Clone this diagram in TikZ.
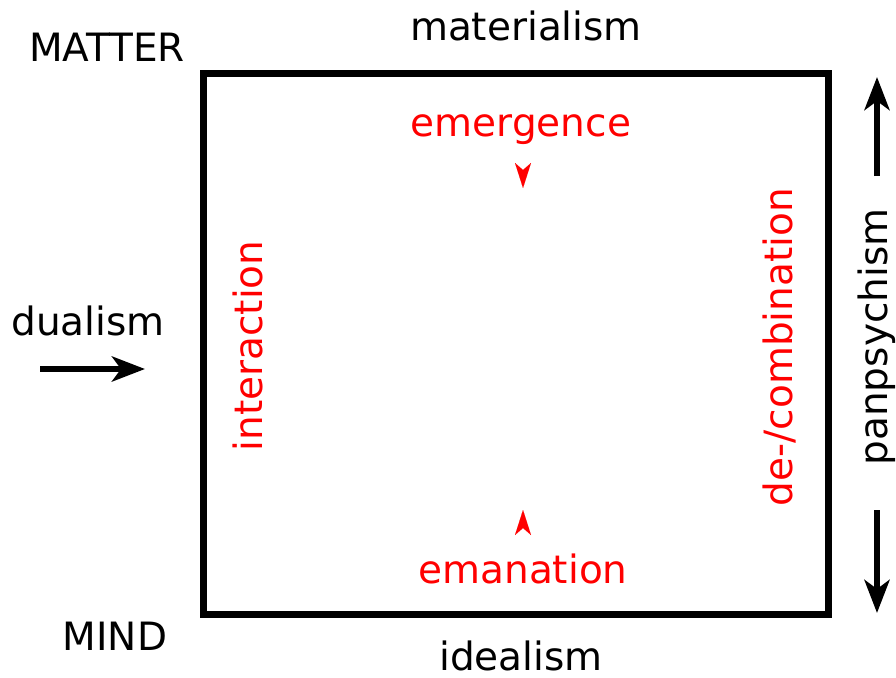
\documentclass[tikz,border=0pt]{standalone}
\usepackage{fontspec}
\setmainfont{DejaVu Sans}
\usetikzlibrary{arrows.meta}
\definecolor{tred}{RGB}{255,0,0}
\tikzset{
  lbl/.style={anchor=base, inner sep=0pt, font=\fontsize{39}{47}\selectfont},
  rlbl/.style={lbl, text=tred},
  bigarrow/.style={line width=6.5pt, -{Stealth[length=33pt,width=25pt,inset=9pt]}},
  redtip/.style={draw=tred, fill=tred, line width=0.01pt, -{Stealth[length=25pt,width=16pt,inset=7pt]}},
  frame/.style={line width=7pt, draw=black},
}
\begin{document}
\begin{tikzpicture}[x=1pt,y=-1pt]
\useasboundingbox (0,0) rectangle (896,677);
% frame
\node[frame, minimum width=625pt, minimum height=541pt, inner sep=0pt, line join=miter] (box) at (515.5,343.5) {};
% corner / side labels
\node[lbl] (matter) at (107,62) {MATTER};
\node[lbl] (mind) at (115,650) {MIND};
\node[lbl] (mat) at (526,41) {materialism};
\node[lbl] (ideal) at (521,670) {idealism};
\node[lbl] (dual) at (88,335) {dualism};
\node[lbl, rotate=90] (pan) at (887,337) {panpsychism};
% red labels
\node[rlbl] (emer) at (521,136) {emergence};
\node[rlbl] (eman) at (523,583) {emanation};
\node[rlbl, rotate=90] (inter) at (262,346) {interaction};
\node[rlbl, rotate=90] (decomb) at (792,347) {de-/combination};
% black arrows
\coordinate (d1) at (40,369);
\coordinate (d2) at (145,369);
\draw[bigarrow] (d1) -- (d2);
\coordinate (u1) at (877,176);
\coordinate (u2) at (877,77);
\draw[bigarrow] (u1) -- (u2);
\coordinate (w1) at (877,510);
\coordinate (w2) at (877,613);
\draw[bigarrow] (w1) -- (w2);
% red arrow tips
\coordinate (r1) at (523,170);
\coordinate (r2) at (523,188);
\draw[redtip] (r1) -- (r2);
\coordinate (s1) at (523,528);
\coordinate (s2) at (523,510);
\draw[redtip] (s1) -- (s2);
\end{tikzpicture}
\end{document}
